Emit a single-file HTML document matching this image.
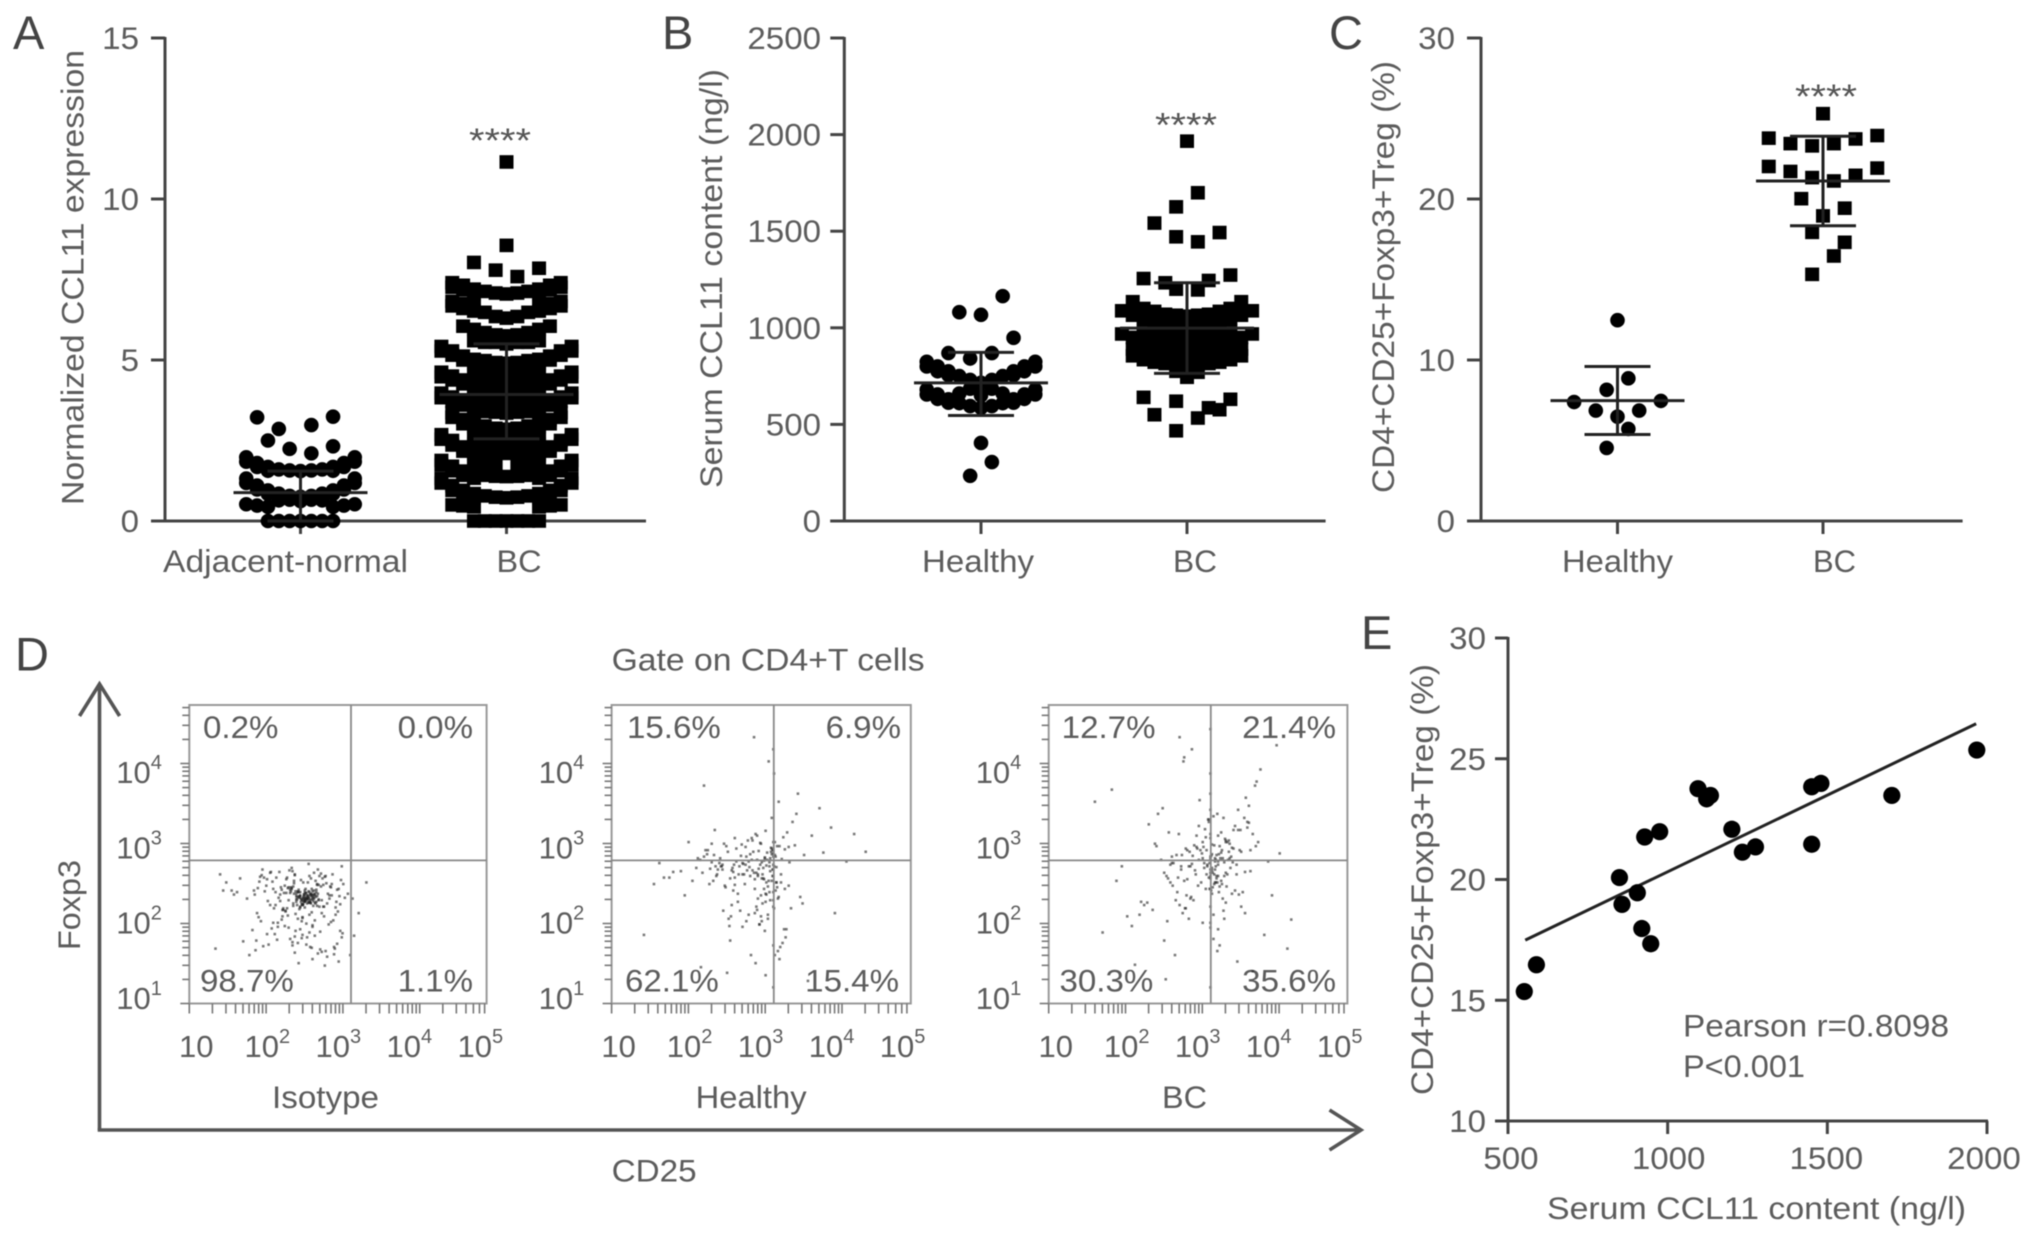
<!DOCTYPE html>
<html lang="en">
<head>
<meta charset="utf-8">
<title>CCL11 and Treg figure</title>
<style>
html,body{margin:0;padding:0;background:#fff;width:2032px;height:1240px;overflow:hidden}
svg{display:block;filter:blur(0.6px)}
text{font-family:"Liberation Sans",sans-serif;font-size:31.5px;fill:#5c5c5c}
.letter{font-size:47px;fill:#444}
.star{font-size:34px;fill:#555}
</style>
</head>
<body>
<svg id="figure" xmlns="http://www.w3.org/2000/svg" width="2032" height="1240" viewBox="0 0 2032 1240">
<rect x="0" y="0" width="2032" height="1240" fill="#fff"/>

<g id="panelA">
<text class="letter" x="13" y="49">A</text>
<text class="s" transform="translate(83.7,505) rotate(-90)" textLength="455" lengthAdjust="spacingAndGlyphs">Normalized CCL11 expression</text>
<text class="star" x="469" y="152" textLength="62" lengthAdjust="spacingAndGlyphs">****</text>
</g>
<g id="panelB">
<text class="letter" x="662" y="49">B</text>
<text class="s" transform="translate(722,488) rotate(-90)" textLength="419" lengthAdjust="spacingAndGlyphs">Serum CCL11 content (ng/l)</text>
<text class="star" x="1155" y="136.5" textLength="62" lengthAdjust="spacingAndGlyphs">****</text>
</g>
<g id="panelC">
<text class="letter" x="1329" y="49">C</text>
<text class="s" transform="translate(1394,493) rotate(-90)" textLength="432" lengthAdjust="spacingAndGlyphs">CD4+CD25+Foxp3+Treg (%)</text>
<text class="star" x="1795" y="108" textLength="62" lengthAdjust="spacingAndGlyphs">****</text>
</g>
<g id="panelD">
<text class="letter" x="15" y="670.6">D</text>
<text class="s" x="611.6" y="670.6" textLength="313" lengthAdjust="spacingAndGlyphs">Gate on CD4+T cells</text>
<text class="s" transform="translate(80,950) rotate(-90)" textLength="90" lengthAdjust="spacingAndGlyphs">Foxp3</text>
<text class="s" x="611.6" y="1181.5" textLength="85" lengthAdjust="spacingAndGlyphs">CD25</text>
<path d="M99.5 1130V685M79.5 716L99.5 684L119.6 716" fill="none" stroke="#555" stroke-width="3.6"/>
<path d="M97.7 1130H1361M1329.5 1110L1361 1130L1329.5 1150" fill="none" stroke="#555" stroke-width="3.6"/>

<text class="s" x="272" y="1108" textLength="107" lengthAdjust="spacingAndGlyphs">Isotype</text>
<text class="s" x="695.6" y="1108" textLength="111" lengthAdjust="spacingAndGlyphs">Healthy</text>
<text class="s" x="1162" y="1108" textLength="45" lengthAdjust="spacingAndGlyphs">BC</text>

<text class="s" x="203" y="738">0.2%</text>
<text class="s" x="473" y="738" text-anchor="end">0.0%</text>
<text class="s" x="200" y="991.7">98.7%</text>
<text class="s" x="473" y="991.7" text-anchor="end">1.1%</text>

<text class="s" x="627" y="738">15.6%</text>
<text class="s" x="901" y="738" text-anchor="end">6.9%</text>
<text class="s" x="625" y="991.7">62.1%</text>
<text class="s" x="899" y="991.7" text-anchor="end">15.4%</text>

<text class="s" x="1061.7" y="738">12.7%</text>
<text class="s" x="1336" y="738" text-anchor="end">21.4%</text>
<text class="s" x="1059.5" y="991.7">30.3%</text>
<text class="s" x="1336" y="991.7" text-anchor="end">35.6%</text>
</g>
<g id="panelE">
<text class="letter" x="1361" y="649">E</text>
<text class="s" transform="translate(1433,1095) rotate(-90)" textLength="431" lengthAdjust="spacingAndGlyphs">CD4+CD25+Foxp3+Treg (%)</text>
<text class="s" x="1547" y="1219" textLength="419" lengthAdjust="spacingAndGlyphs">Serum CCL11 content (ng/l)</text>
<text class="s" x="1683" y="1036.7" textLength="266" lengthAdjust="spacingAndGlyphs">Pearson r=0.8098</text>
<text class="s" x="1683" y="1077" textLength="122" lengthAdjust="spacingAndGlyphs">P&lt;0.001</text>
</g>
</svg>

<script>
/* ---------- Panel A data ---------- */
const panelACategories = ['Adjacent-normal', 'BC'];
const panelATicks = [0, 5, 10, 15];
const adjacentStats = [0.88, 1.55, 0];
const panelABcStats = [3.93, 5.5, 2.55];
const adjacentRows = [
  [null, null, 2.86, null, 3.22],
  [2.98, null, 3.24, null],
  [2.1, 2.24, 2.32, 2.5],
  [1.57, 1.57, 1.68, 1.68, 1.98, 1.98],
  [1.55, 1.6, 1.6, 1.8, 1.8],
  [null, null, 1.56, 1.56, 1.84, 1.84],
  [null, null, null, 1.68, 1.68],
  [0.78, 0.78, 0.95, 0.95, 1.32, 1.32],
  [0.75, 0.85, 0.85, 1.1, 1.1],
  [null, null, 0.84, 0.84, 1.18, 1.18],
  [null, null, null, 0.98, 0.98],
  [0.66, 0.66],
  [0.62, 0.64, 0.64],
  [null, null, 0.44, 0.44, 0.52, 0.52],
  [null, null, null, 0.48, 0.48],
  [0, 0, 0, 0],
  [0, 0, 0]
];
const panelABcRows = [
  [11.15], [8.56], [7.59, 7.79, 7.85, 8.03],
  [7.08, 7.08, 7.2, 7.2, 7.4, 7.4], [7.05, 7.13, 7.13, 7.32, 7.32],
  [null, null, 7.06, 7.06, 7.26, 7.26], [null, null, null, 7.18, 7.18],
  [6.35, 6.35, 6.66, 6.66, 6.82, 6.82], [6.3, 6.48, 6.48, 6.75, 6.75],
  [null, null, 6.52, 6.52, 6.68, 6.68], [null, null, null, 6.6, 6.6],
  [5.78, 5.78, 5.95, 5.95], [5.75, 5.85, 5.85, 6.05, 6.05],
  [5.55, 5.55, 5.6, 5.6], [5.5, 5.55, 5.55],
  [4.9, 4.98, 4.98, 5.12, 5.12, 5.42, 5.42], [4.92, 4.92, 5.02, 5.02, 5.28, 5.28],
  [null, null, 4.9, 4.9, 5.15, 5.15], [null, null, null, 5.0, 5.0, 5.28, 5.28],
  [4.55, 4.55, 4.62, 4.62], [4.52, 4.58, 4.58],
  [4.2, 4.25, 4.25, 4.38, 4.38, 4.62, 4.62], [4.22, 4.22, 4.3, 4.3, 4.5, 4.5],
  [null, null, 4.18, 4.18, 4.38, 4.38], [null, null, null, 4.26, 4.26, 4.48, 4.48],
  [3.88, 3.88, 3.95, 3.95], [3.85, 3.9, 3.9],
  [3.55, 3.6, 3.6, 3.73, 3.73, 3.97, 3.97], [3.57, 3.57, 3.65, 3.65, 3.85, 3.85],
  [null, null, 3.52, 3.52, 3.72, 3.72], [null, null, null, 3.6, 3.6, 3.83, 3.83],
  [3.38, 3.38, 3.45, 3.45], [3.35, 3.4, 3.4],
  [2.85, 2.95, 2.95, 3.15, 3.15], [2.88, 2.88, 3.05, 3.05, 3.36, 3.36],
  [null, null, 2.92, 2.92, 3.22, 3.22], [null, null, null, 3.02, 3.02],
  [2.55, 2.55, 2.62, 2.62], [2.5, 2.58, 2.58],
  [2.3, 2.3, 2.38, 2.38], [2.28, 2.32, 2.32],
  [2.1, 2.15, 2.15, 2.3, 2.3, 2.68, 2.68], [2.12, 2.12, 2.2, 2.2, 2.5, 2.5],
  [null, null, 2.08, 2.08, 2.36, 2.36], [null, null, null, 2.17, 2.17, 2.54, 2.54],
  [1.78, 1.78, 1.85, 1.85], [null, 1.75, 1.75],
  [1.38, 1.42, 1.42, 1.55, 1.55, 1.88, 1.88], [1.39, 1.39, 1.47, 1.47, 1.7, 1.7],
  [null, null, 1.33, 1.33, 1.56, 1.56], [null, null, null, 1.42, 1.42, 1.74, 1.74],
  [0.72, 0.78, 0.78, 0.95, 0.95, 1.32, 1.32], [0.74, 0.74, 0.85, 0.85, 1.1, 1.1],
  [null, null, 0.72, 0.72, 0.95, 0.95], [null, null, null, 0.82, 0.82, 1.18, 1.18],
  [null, null, 0.44, 0.44, 0.5, 0.5], [null, null, null, 0.47, 0.47],
  [0, 0, 0, 0], [0, 0, 0]
];

/* ---------- Panel B data ---------- */
const panelBCategories = ['Healthy', 'BC'];
const panelBTicks = [0, 500, 1000, 1500, 2000, 2500];
const panelBHealthyStats = [715, 873, 546];
const panelBBcStats = [998, 1233, 764];
const panelBHealthyRows = [
  [1067, 1164, 1081],
  [869, 841, 948, 869],
  [715, 750, 750, 800, 800],
  [730, 730, 775, 775, 824, 824],
  [null, null, 755, 755, 800, 800],
  [null, null, null, 775, 775],
  [685, 685],
  [650, 660, 660],
  [586, 610, 610, 655, 655],
  [595, 595, 630, 630, 680, 680],
  [null, null, 612, 612, 655, 655],
  [null, null, null, 632, 632],
  [305, 234],
  [404]
];
const panelBBcRows = [
  [1966],
  [1699, 1626],
  [1445, 1471, 1493, 1542],
  [1196, 1200],
  [null, 1245, 1233, 1273, 1255],
  [1060, 1070, 1070, 1100, 1100],
  [1065, 1065, 1085, 1085, 1135, 1135],
  [1045, 1045, 1060, 1060],
  [1000, 1012, 1012, 1040, 1040, 1088, 1088],
  [1005, 1005, 1025, 1025, 1065, 1065],
  [950, 952, 952, 965, 965],
  [951, 951, 958, 958],
  [905, 915, 915, 935, 935, 968, 968],
  [908, 908, 925, 925, 950, 950],
  [860, 862, 862, 875, 875],
  [861, 861, 868, 868, 890, 890],
  [810, 815, 815, 835, 835],
  [812, 812, 822, 822, 855, 855],
  [770, 775],
  [744],
  [null, 620, 576, 550],
  [null, 586, null, 630, 640],
  [533, 467]
];

/* ---------- Panel C data ---------- */
const panelCCategories = ['Healthy', 'BC'];
const panelCTicks = [0, 10, 20, 30];
const panelCHealthyStats = [7.48, 9.6, 5.37];
const panelCBcStats = [21.12, 23.9, 18.34];
const panelCHealthyRows = [
  [12.47],
  [8.86, 8.15],
  [6.48, 6.86, 6.86, 7.46, 7.39],
  [5.72, 4.54]
];
const panelCBcRows = [
  [25.3],
  [23.44, 23.3, 23.73, 23.44, 23.94, 23.78],
  [21.12, 21.33, 21.47, 21.71, 21.92, 22.02],
  [18.95, 19.43, 20.02],
  [16.46, 17.93],
  [null, 17.31, null],
  [null, 15.32]
];

/* ---------- Panel D data (decades above the plot origin) ---------- */
const flowXLabels = ['', '2', '3', '4', '5'];
const flowYLabels = ['1', '2', '3', '4'];
const isotypeCd25 = [1.42,1.31,1.55,1.48,1.22,1.63,1.37,1.5,1.71,1.28,1.44,1.58,1.12,1.39,1.66,1.46,1.33,1.52,1.77,1.25,
1.41,1.6,1.18,1.36,1.49,1.69,1.29,1.56,1.43,1.05,1.35,1.62,1.47,1.82,1.27,1.53,1.4,1.74,1.21,1.51,
1.45,1.34,1.65,1.09,1.38,1.57,1.3,1.88,1.48,1.24,1.61,1.42,1.15,1.54,1.37,1.72,1.46,1.32,1.59,0.98,
1.44,1.68,1.26,1.5,1.39,1.79,1.2,1.55,1.41,1.64,1.33,1.47,1.02,1.36,1.52,1.85,1.43,1.28,1.6,1.49,
0.92,1.4,1.7,1.23,1.56,1.35,1.94,1.45,1.17,1.63,0.85,1.31,1.51,1.75,1.08,1.38,1.58,1.98,0.78,1.44,
1.25,1.66,0.7,1.53,1.13,1.81,0.62,1.34,2.02,0.95,1.47,0.55,1.6,1.9,0.48,1.01,1.72,0.4,1.29,2.06,
0.88,1.55,0.34,1.19,1.84,0.75,1.42,1.96,0.66,1.37,1.1,1.67,0.58,2.0,0.82,1.5,1.76,0.44,1.21,1.92,
2.14,2.2,2.09,2.3,2.12,1.45,1.39,1.52,1.47,1.41,1.5,1.36,1.44,1.55,1.33,1.48,1.43,1.58,1.38,1.46,
1.49,1.35,1.53,1.42,1.57,1.4,1.31,1.47,1.6,1.44,
1.78,0.9,1.62,1.14,1.95,1.73,0.86,1.27,1.84,1.07,1.56,1.91,0.96,1.68,1.2,1.8,1.34,1.99,1.05,1.64,
1.88,0.84,1.52,1.16,1.76,1.41,1.93,1.0,1.7,1.29,1.86,0.93,1.59,1.12,1.97,1.46,1.74,0.89,1.24,1.67,
1.82,1.03,1.54,1.9,1.18,1.63,0.97,1.79,1.37,1.94,1.09,1.71,1.5,0.87,1.85,1.22,1.6,1.96,1.01,1.75,
1.32,1.89,0.94,1.66,1.15,1.83,1.48,1.98,1.06,1.72,1.26,1.57,0.91,1.87,1.39,1.69,1.11,1.92,1.44,1.77,
1.53,1.58,1.61,1.49,1.55,1.63,1.51,1.59,1.56,1.65,1.48,1.54,1.62,1.5,1.57,1.6,1.52,1.64,1.46,1.58,
1.66,1.53,1.56,1.61,1.49,1.67,1.55,1.59,1.51,1.63,1.47,1.6,1.54,1.68,1.5,1.57,1.62,1.52,1.58,1.65];
const isotypeFoxp3 = [1.32,1.41,1.25,1.5,1.18,1.36,1.6,1.28,1.45,1.09,1.38,1.55,1.22,1.33,1.48,1.02,1.43,1.3,1.58,1.14,
1.39,0.95,1.27,1.52,1.35,1.2,1.44,0.88,1.31,1.62,1.24,1.4,1.07,1.34,1.56,0.82,1.29,1.47,1.16,1.37,
1.53,0.76,1.26,1.42,1.11,1.35,1.65,0.7,1.3,1.46,1.21,1.38,1.0,1.33,1.59,0.64,1.23,1.44,1.13,1.39,
0.92,1.28,1.54,1.19,1.36,0.58,1.41,1.25,1.05,1.32,1.68,0.85,1.27,1.49,0.73,1.34,1.17,1.43,0.97,1.3,
1.57,1.22,0.67,1.37,1.1,1.45,0.52,1.26,1.63,1.03,1.35,0.8,1.42,1.2,1.51,0.9,1.29,1.7,0.6,1.33,
1.15,1.47,0.77,1.24,1.56,0.98,1.38,0.72,1.31,1.66,1.06,1.4,0.55,1.19,1.5,0.86,1.28,1.6,0.94,1.36,
1.12,1.73,0.68,1.44,1.01,1.3,0.5,1.23,1.55,0.83,1.18,0.62,1.35,1.48,0.91,1.26,0.47,1.4,1.08,0.74,
0.84,1.12,0.6,1.5,1.3,1.3,1.26,1.34,1.22,1.38,1.29,1.36,1.2,1.31,1.42,1.27,1.33,1.24,1.39,1.28,
1.35,1.21,1.3,1.41,1.25,1.32,1.37,1.23,1.29,1.34,
1.49,1.07,1.62,0.79,1.33,1.55,0.66,1.18,1.44,0.93,1.58,1.26,0.71,1.47,1.04,1.36,1.64,0.87,1.22,1.52,
0.61,1.4,0.99,1.31,1.57,0.75,1.14,1.46,0.89,1.28,1.6,1.02,0.69,1.38,1.53,0.81,1.2,1.43,0.96,1.66,
1.3,0.73,1.5,1.1,1.35,0.84,1.56,1.24,0.63,1.42,1.0,1.61,1.27,0.78,1.48,1.16,1.34,0.9,1.54,1.08,
1.39,0.68,1.59,1.21,0.95,1.45,1.32,0.82,1.63,1.12,1.37,0.7,1.51,1.03,1.29,1.58,0.86,1.41,1.19,0.65,
1.3,1.36,1.27,1.33,1.39,1.25,1.31,1.35,1.28,1.38,1.23,1.34,1.3,1.4,1.26,1.32,1.37,1.24,1.29,1.35,
1.33,1.28,1.38,1.31,1.26,1.36,1.3,1.42,1.27,1.34,1.22,1.39,1.32,1.29,1.37,1.25,1.35,1.3,1.33,1.41];
const healthyCd25 = [1.93,2.08,1.72,2.15,1.86,2.02,1.6,2.2,1.97,1.45,2.1,1.8,2.28,1.9,2.05,1.52,2.13,1.76,2.35,1.99,
1.66,2.1,1.3,2.22,1.88,2.07,1.56,2.4,1.95,1.12,2.12,1.7,2.3,1.83,2.03,1.38,2.17,0.95,2.5,1.92,
2.09,1.62,2.26,1.78,2.0,1.2,2.14,1.48,2.6,1.87,2.06,1.05,2.33,1.74,2.11,0.8,2.19,1.58,2.75,1.94,
2.1,1.34,2.24,0.68,2.04,1.82,2.45,1.5,2.1,1.0,2.9,1.68,2.16,0.55,2.08,1.42,2.55,1.9,2.1,1.25,
2.31,0.42,1.98,2.1,1.64,2.85,1.1,2.18,1.75,2.1,0.9,2.7,1.54,2.01,3.05,1.85,2.1,1.16,2.38,1.96,
2.1,1.44,2.25,3.15,1.7,2.1,0.75,2.42,1.89,2.1,1.28,3.3,2.0,1.6,2.12,0.62,2.48,1.81,2.08,1.36,
1.95,2.04,1.84,2.13,1.91,1.77,2.06,1.99,1.65,2.18,1.86,2.01,1.73,2.09,1.94,2.23,1.58,2.03,1.89,2.15,
1.8,1.97,2.11,1.69,2.05,1.92,2.2,1.75,2.0,1.87,2.14,1.62,1.96,2.07,1.83,2.27,1.71,1.98,2.1,1.9,
1.55,2.02,2.16,1.79,1.93,2.08,1.67,2.21,1.85,2.0,1.47,2.12,1.95,1.74,2.05,2.3,1.6,1.88,2.09,1.82,
1.98,2.17,1.7,1.91,2.03,1.53,2.11,1.86,2.25,1.64,1.99,2.06,1.78,1.94,2.14,1.4,2.01,1.89,2.1,1.57,
1.24,1.35,1.49,1.18,1.41,1.3,1.54,1.22,1.44,1.33,1.59,1.27,1.46,1.37,1.15,1.51,1.32,1.43,1.2,1.56];
const healthyFoxp3 = [1.72,1.85,1.6,1.95,1.42,1.78,2.05,1.5,1.68,1.15,1.9,1.58,2.12,1.3,1.75,1.05,1.82,1.65,2.25,0.9,
1.7,1.38,1.98,0.75,1.62,1.88,1.22,2.35,1.55,1.8,0.6,1.74,1.46,2.02,1.1,1.66,2.5,1.34,1.84,0.98,
1.58,1.92,0.82,1.76,1.26,2.7,1.69,1.44,2.08,0.5,1.8,1.52,1.18,1.94,2.85,1.63,0.7,1.4,1.87,1.08,
1.72,2.15,0.92,1.56,3.0,1.78,1.32,0.38,1.66,2.0,1.12,1.83,0.65,1.48,2.3,1.7,0.28,1.6,1.2,1.9,
1.75,0.85,1.54,3.15,1.36,2.18,1.68,0.55,1.02,1.86,1.64,2.42,0.78,1.5,1.76,3.3,1.28,0.45,1.96,1.6,
0.2,1.72,1.42,2.1,0.95,1.82,1.56,2.6,1.16,0.72,1.67,1.88,0.35,1.47,2.0,1.74,1.24,0.6,1.92,1.58,
1.75,1.52,1.88,1.4,1.67,2.02,1.28,1.8,1.6,1.95,1.12,1.71,1.48,1.9,1.34,2.06,1.63,1.05,1.78,1.44,
1.85,1.55,1.18,1.97,1.7,0.98,1.6,1.82,1.36,2.1,1.5,1.76,1.24,1.93,1.65,0.92,1.73,1.42,2.0,1.58,
1.08,1.87,1.3,1.69,1.99,1.52,1.15,1.79,1.62,2.14,1.46,1.84,1.02,1.72,1.38,1.94,1.56,1.2,1.66,2.05,
1.77,1.32,1.6,1.89,1.45,0.96,1.7,1.54,1.91,1.26,1.81,1.64,1.1,1.98,1.5,1.74,1.35,2.08,1.58,1.68,
1.85,1.7,1.95,1.62,1.8,1.75,1.55,1.9,1.66,1.84,1.72,1.48,1.98,1.6,1.78,1.88,1.52,1.7,1.82,1.65];
const panelBcCd25 = [2.17,2.25,2.1,2.3,1.98,2.12,2.4,2.05,2.2,1.85,2.15,2.35,2.08,2.22,1.72,2.1,2.5,1.92,2.18,2.28,
1.6,2.14,2.42,2.02,2.2,1.78,2.1,2.6,1.88,2.16,2.32,1.5,2.12,2.24,1.95,2.55,1.66,2.1,2.38,1.82,
2.19,1.4,2.1,2.7,2.0,2.26,1.56,2.13,2.45,1.9,2.1,1.28,2.34,1.75,2.2,2.8,1.62,2.08,1.18,2.48,
1.86,2.15,2.65,1.46,2.1,1.08,2.3,1.96,2.9,1.7,2.11,1.35,2.22,0.95,2.58,1.8,2.1,1.52,3.0,2.04,
0.82,2.28,1.64,2.1,1.24,2.44,2.75,1.92,0.7,2.17,1.42,2.36,3.15,1.76,2.1,1.12,2.52,2.0,1.58,2.1,
2.24,0.6,1.84,2.62,1.3,2.14,2.85,1.68,2.1,1.02,2.4,1.94,2.1,1.48,3.1,2.06,2.2,1.78,2.32,2.68,
1.38,2.12,2.96,1.6,2.27,0.88,2.1,1.72,2.46,2.18,1.2,2.05,2.1,2.56,1.86,2.3,2.16,2.1,1.54,2.22,
2.13,2.21,2.06,2.29,2.16,1.97,2.33,2.11,2.24,2.02,2.37,2.18,1.89,2.26,2.09,2.42,2.15,1.83,2.31,2.04,
2.2,2.5,1.93,2.12,2.35,1.76,2.23,2.07,2.47,2.17,1.99,2.28,1.69,2.14,2.39,2.01,2.25,1.87,2.19,2.55,
2.1,1.95,2.34,2.08,1.8,2.21,2.44,2.03,2.16,1.73,2.3,2.12,1.91,2.6,2.19,2.0,2.27,1.84,2.38,2.09,
1.65,1.55,1.74,1.61,1.79,1.5,1.7,1.58,1.82,1.67,1.53,1.77,2.65,2.58,2.72,2.62,2.54,2.49,2.69,2.46];
const panelBcFoxp3 = [1.78,1.9,1.66,2.02,1.5,1.85,2.15,1.6,1.72,1.32,1.96,1.8,2.25,1.45,1.7,1.2,1.88,2.08,1.58,1.05,
1.82,2.32,1.4,1.74,0.92,1.92,1.62,2.45,1.28,1.76,2.0,0.78,1.68,1.52,2.2,1.12,1.84,2.6,1.36,1.7,
0.65,1.95,1.55,2.75,1.0,1.8,2.12,1.44,0.52,1.65,2.4,1.25,1.88,3.0,1.58,0.85,1.74,2.28,1.1,1.9,
3.15,1.48,0.4,1.78,2.05,0.96,1.62,2.52,1.34,3.3,1.83,1.16,0.72,1.7,2.18,1.54,3.4,0.3,1.86,1.42,
2.65,1.75,0.6,2.1,1.22,1.6,2.9,1.94,0.88,1.5,2.35,1.68,1.04,3.05,1.79,0.48,1.38,2.0,1.72,0.2,
1.87,2.5,1.3,1.64,2.22,0.8,1.76,1.56,2.85,1.08,1.92,1.46,1.82,2.42,0.68,1.7,2.08,1.18,1.6,2.7,
1.98,1.36,3.2,1.74,2.3,1.52,0.94,1.66,2.15,1.84,1.26,1.9,1.58,2.55,1.73,2.0,1.8,1.42,1.02,1.95,
1.62,1.85,1.72,2.04,1.5,1.9,1.78,1.4,2.12,1.68,1.82,1.55,1.96,1.3,1.74,2.2,1.6,1.88,1.45,2.06,
1.76,1.2,1.92,1.65,1.98,1.52,1.8,2.28,1.35,1.7,1.86,1.58,2.1,1.1,1.75,1.94,1.48,1.83,2.35,1.63,
1.0,1.78,2.02,1.56,1.9,1.38,1.72,2.16,1.66,1.84,1.25,1.97,1.6,2.24,1.5,1.8,1.15,1.7,1.93,1.42,
1.28,1.55,1.12,1.46,1.34,1.62,1.22,1.5,1.05,1.38,1.58,1.18,2.1,2.25,2.0,1.9,2.3,2.15,1.95,2.4];

/* ---------- Panel E data ---------- */
const panelEXTicks = [500, 1000, 1500, 2000];
const panelEYTicks = [10, 15, 20, 25, 30];
const serumContent = [551, 589, 849, 857, 905, 919, 947, 928, 975, 1095, 1122, 1134, 1201, 1234, 1275, 1451, 1451, 1480, 1702, 1968];
const tregPercent = [15.36, 16.47, 20.08, 18.97, 19.45, 17.97, 17.34, 21.76, 21.98, 23.76, 23.34, 23.48, 22.08, 21.13, 21.35, 21.46, 23.84, 23.98, 23.48, 25.36];
const fitX = [554, 1966];
const fitY = [17.49, 26.45];

/* ---------- Drawing ---------- */
const SVGNS = 'http://www.w3.org/2000/svg';
const AXIS = '#444';
const UNIT = 10.85;

function mk(tag, parent, attrs, name) {
  const el = document.createElementNS(SVGNS, tag);
  for (const k in attrs) el.setAttribute(k, attrs[k]);
  
  
  parent.appendChild(el);
  return el;
}
function line(parent, x1, y1, x2, y2, name, width, color) {
  return mk('line', parent, {x1, y1, x2, y2, stroke: color || AXIS, 'stroke-width': width || 3}, name);
}
function label(parent, x, y, str, anchor, name) {
  const t = mk('text', parent, {x, y, 'text-anchor': anchor, class: 's'}, name);
  t.textContent = str;
  return t;
}
function slot(i, n) {
  if (n % 2) return i === 0 ? 0 : (i % 2 ? i + 1 : -i);
  return i % 2 ? -i : i + 1;
}
function drawRows(parent, rows, cx, y, shape, name) {
  rows.forEach(row => {
    row.forEach((v, i) => {
      if (v === null) return;
      const px = cx + slot(i, row.length) * UNIT;
      const py = y(v);
      if (shape === 'circle') {
        mk('circle', parent, {cx: px, cy: py, r: 7.3, fill: '#000'}, name);
      } else {
        mk('rect', parent, {x: px - 7, y: py - 6.8, width: 14, height: 13.6, fill: '#000'}, name);
      }
    });
  });
}
function drawStats(parent, stats, cx, y, name) {
  line(parent, cx - 67, y(stats[0]), cx + 67, y(stats[0]), name + '-mean', 3, '#222');
  line(parent, cx - 33, y(stats[1]), cx + 33, y(stats[1]), name + '-sd-upper', 3, '#222');
  line(parent, cx - 33, y(stats[2]), cx + 33, y(stats[2]), name + '-sd-lower', 3, '#222');
  line(parent, cx, y(stats[1]), cx, y(stats[2]), name + '-sd-bar', 3, '#222');
}
function swarmPanel(cfg) {
  const g = document.getElementById(cfg.id);
  const top = 38, bottom = 521;
  const max = cfg.ticks[cfg.ticks.length - 1];
  const y = v => bottom - (v / max) * (bottom - top);
  line(g, cfg.axisX, top - 1, cfg.axisX, bottom + 1, 'y-axis-line');
  line(g, cfg.axisX - 14, bottom, cfg.right, bottom, 'x-axis-line');
  cfg.ticks.forEach(t => {
    line(g, cfg.axisX - 14, y(t), cfg.axisX, y(t), 'y-tick');
    label(g, cfg.labelRight, y(t) + 11, String(t), 'end', 'y-tick-label');
  });
  cfg.cats.forEach((c, i) => {
    line(g, cfg.catX[i], bottom, cfg.catX[i], bottom + 13, 'x-tick');
    const tx = label(g, cfg.catLabelX[i], 572, c, 'start', 'x-category-label');
    tx.setAttribute('textLength', cfg.catLabelW[i]);
    tx.setAttribute('lengthAdjust', 'spacingAndGlyphs');
  });
  drawRows(g, cfg.rows[0], cfg.catX[0], y, 'circle', 'point-' + cfg.names[0]);
  drawRows(g, cfg.rows[1], cfg.catX[1], y, 'square', 'point-' + cfg.names[1]);
  drawStats(g, cfg.stats[0], cfg.catX[0], y, 'error-' + cfg.names[0]);
  drawStats(g, cfg.stats[1], cfg.catX[1], y, 'error-' + cfg.names[1]);
}
swarmPanel({id: 'panelA', ticks: panelATicks, cats: panelACategories, axisX: 165, right: 646, labelRight: 139,
  catX: [300.5, 506.5], catLabelX: [163, 496.5], catLabelW: [245, 45], rows: [adjacentRows, panelABcRows],
  stats: [adjacentStats, panelABcStats], names: ['adjacent-normal', 'bc']});
swarmPanel({id: 'panelB', ticks: panelBTicks, cats: panelBCategories, axisX: 844.3, right: 1325.6, labelRight: 821,
  catX: [981, 1187], catLabelX: [922, 1173], catLabelW: [112, 44], rows: [panelBHealthyRows, panelBBcRows],
  stats: [panelBHealthyStats, panelBBcStats], names: ['healthy', 'bc']});
swarmPanel({id: 'panelC', ticks: panelCTicks, cats: panelCCategories, axisX: 1481, right: 1962.6, labelRight: 1455,
  catX: [1617.5, 1823], catLabelX: [1562, 1813], catLabelW: [111, 43], rows: [panelCHealthyRows, panelCBcRows],
  stats: [panelCHealthyStats, panelCBcStats], names: ['healthy', 'bc']});

/* Flow cytometry plots */
const flowTop = 705, flowBottom = 1003.5, flowXDecade = 77, flowYDecade = 80.7;
const flowTickX = 76.8, flowTickY = 80;
function supLabel(parent, x, y, sup, anchor, name) {
  const t = mk('text', parent, {x, y, 'text-anchor': anchor}, name);
  t.style.fontSize = '31px';
  t.appendChild(document.createTextNode('10'));
  if (sup) {
    const s = document.createElementNS(SVGNS, 'tspan');
    s.setAttribute('dy', '-14');
    s.style.fontSize = '20px';
    s.textContent = sup;
    t.appendChild(s);
  }
  return t;
}
function flowPlot(cfg) {
  const g = document.getElementById('panelD');
  const x = u => cfg.left + u * flowXDecade;
  const y = v => flowBottom - v * flowYDecade;
  const n = Math.min(cfg.xs.length, cfg.ys.length);
  for (let i = 0; i < n; i++) {
    mk('rect', g, {x: x(cfg.xs[i]) - 1.3, y: y(cfg.ys[i]) - 1.3, width: 2.6, height: 2.6, fill: '#222', opacity: 0.6}, 'flow-event-' + cfg.name);
  }
  mk('rect', g, {x: cfg.left, y: flowTop, width: cfg.right - cfg.left, height: flowBottom - flowTop, fill: 'none', stroke: '#999', 'stroke-width': 2}, 'flow-plot-box-' + cfg.name);
  line(g, cfg.quad, flowTop, cfg.quad, flowBottom, 'quadrant-vertical-' + cfg.name, 1.8, '#888');
  line(g, cfg.left, 860.4, cfg.right, 860.4, 'quadrant-horizontal-' + cfg.name, 1.8, '#888');
  [0, 1, 2, 3].forEach(dec => {
    [1, 2, 3, 4, 5, 6, 7, 8, 9].forEach(d => {
      const ty = flowBottom - flowTickY * (dec + Math.log10(d));
      if (ty >= flowTop) line(g, cfg.left - (d === 1 ? 9 : 7), ty, cfg.left, ty, 'y-minor-tick', 1.6, '#777');
      const tx = cfg.left + flowTickX * (dec + Math.log10(d));
      if (tx <= cfg.right) line(g, tx, flowBottom, tx, flowBottom + 10, 'x-minor-tick', 1.6, '#777');
    });
  });
  flowXLabels.forEach((s, i) => {
    supLabel(g, cfg.left + 7 + 71 * i, 1057, s, 'middle', 'flow-x-tick-label');
  });
  flowYLabels.forEach((s, i) => {
    supLabel(g, cfg.left - 73, 1009 - 75.3 * i, s, 'start', 'flow-y-tick-label');
  });
}
flowPlot({name: 'isotype', left: 189.3, right: 486.6, quad: 351, xs: isotypeCd25, ys: isotypeFoxp3});
flowPlot({name: 'healthy', left: 611.6, right: 910.8, quad: 773.8, xs: healthyCd25, ys: healthyFoxp3});
flowPlot({name: 'bc', left: 1048.7, right: 1347.4, quad: 1210.8, xs: panelBcCd25, ys: panelBcFoxp3});

/* Correlation panel */
(function () {
  const g = document.getElementById('panelE');
  const x = v => 1508 + (v - 500) / 1500 * (1987 - 1508);
  const y = v => 1121 - (v - 10) / 20 * (1121 - 638);
  line(g, 1508, 637, 1508, 1134, 'y-axis-line');
  line(g, 1495, 1121, 1988, 1121, 'x-axis-line');
  panelEYTicks.forEach(t => {
    line(g, 1495, y(t), 1508, y(t), 'y-tick');
    label(g, 1486, y(t) + 11, String(t), 'end', 'y-tick-label');
  });
  panelEXTicks.forEach(t => {
    line(g, x(t), 1121, x(t), 1134, 'x-tick');
    label(g, x(t) + 3 - (t - 500) / 1500 * 6, 1169, String(t), 'middle', 'x-tick-label');
  });
  line(g, x(fitX[0]), y(fitY[0]), x(fitX[1]), y(fitY[1]), 'regression-line', 3, '#222');
  serumContent.forEach((v, i) => {
    mk('circle', g, {cx: x(v), cy: y(tregPercent[i]), r: 8.6, fill: '#000'}, 'correlation-point');
  });
})();

/* Reference type is set slightly wider than the metric font */
document.querySelectorAll('text.s').forEach(t => {
  if (!t.hasAttribute('textLength')) {
    t.setAttribute('textLength', (t.getComputedTextLength() * 1.05).toFixed(1));
    t.setAttribute('lengthAdjust', 'spacingAndGlyphs');
  }
});
</script>
</body>
</html>
